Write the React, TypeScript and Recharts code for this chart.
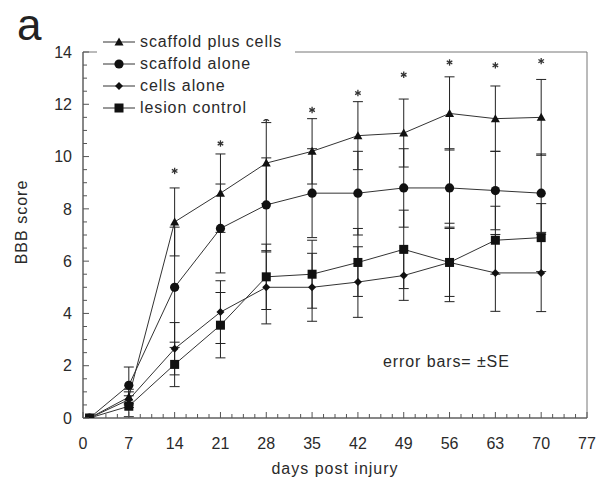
import { ComposedChart, Line, Scatter, XAxis, YAxis, ErrorBar, ReferenceArea, Legend } from 'recharts';

// BBB score over time
const days = [1, 7, 14, 21, 28, 35, 42, 49, 56, 63, 70];
const scaffoldPlusCells = [0, 0.8, 7.5, 8.6, 9.75, 10.2, 10.8, 10.9, 11.65, 11.45, 11.5];
const scaffoldPlusCellsSE = [0, 0.3, 1.3, 1.5, 1.55, 1.25, 1.3, 1.3, 1.4, 1.25, 1.45];
const scaffoldAlone = [0, 1.25, 5.0, 7.25, 8.15, 8.6, 8.6, 8.8, 8.8, 8.7, 8.6];
const scaffoldAloneSE = [0, 0.7, 2.3, 1.7, 1.8, 1.7, 1.6, 1.5, 1.5, 1.5, 1.5];
const cellsAlone = [0, 0.7, 2.65, 4.05, 5.0, 5.0, 5.2, 5.45, 5.95, 5.55, 5.55];
const cellsAloneSE = [0, 0.3, 1.0, 1.2, 1.4, 1.3, 1.35, 0.95, 1.5, 1.47, 1.48];
const lesionControl = [0, 0.45, 2.05, 3.55, 5.4, 5.5, 5.95, 6.45, 5.95, 6.8, 6.9];
const lesionControlSE = [0, 0.4, 0.85, 1.25, 1.25, 1.3, 1.3, 1.5, 1.3, 1.3, 1.3];

// significance asterisks
const starDays = [14, 21, 28, 35, 42, 49, 56, 63, 70];
const starLevels = [9.45, 10.5, 11.43, 11.78, 12.43, 13.13, 13.6, 13.49, 13.65];

const xMajorTicks = [0, 7, 14, 21, 28, 35, 42, 49, 56, 63, 70, 77];
const yMajorTicks = [0, 2, 4, 6, 8, 10, 12, 14];
const MINOR_PER_MAJOR = 4;

const FONT = '"Liberation Sans", Arial, Helvetica, sans-serif';
const INK = '#2a2a2a';

const rows = days.map((day, i) => ({
  day,
  sp: scaffoldPlusCells[i],
  spErr: scaffoldPlusCellsSE[i],
  sa: scaffoldAlone[i],
  saErr: scaffoldAloneSE[i],
  ca: cellsAlone[i],
  caErr: cellsAloneSE[i],
  lc: lesionControl[i],
  lcErr: lesionControlSE[i],
}));

const stars = starDays.map((day, i) => ({ day, v: starLevels[i] }));

function withMinors(majors: number[]) {
  const out: number[] = [];
  for (let i = 0; i < majors.length - 1; i++) {
    const step = (majors[i + 1] - majors[i]) / MINOR_PER_MAJOR;
    for (let k = 0; k < MINOR_PER_MAJOR; k++) out.push(majors[i] + step * k);
  }
  out.push(majors[majors.length - 1]);
  return out;
}

const isMajor = (v: number, majors: number[]) => majors.some((m) => Math.abs(m - v) < 1e-6);

// markers
type Shape = 'triangle' | 'circle' | 'diamond' | 'square';

function marker(shape: Shape, cx: number, cy: number) {
  switch (shape) {
    case 'triangle':
      return <path d={`M${cx},${cy - 4.5} L${cx + 4.5},${cy + 3.5} L${cx - 4.5},${cy + 3.5} Z`} fill="#111" />;
    case 'circle':
      return <circle cx={cx} cy={cy} r={4.6} fill="#111" />;
    case 'diamond':
      return <path d={`M${cx},${cy - 4} L${cx + 4},${cy} L${cx},${cy + 4} L${cx - 4},${cy} Z`} fill="#111" />;
    default:
      return <rect x={cx - 4.5} y={cy - 4.5} width={9} height={9} fill="#111" />;
  }
}

const dotFor = (shape: Shape) => (props: any) => {
  const { cx, cy, index } = props;
  if (cx == null || cy == null) return <g key={index} />;
  return <g key={`${shape}-${index}`}>{marker(shape, cx, cy)}</g>;
};

function Asterisk(props: any) {
  const { cx, cy } = props;
  const r = 3.2;
  return (
    <g stroke="#333" strokeWidth={1.3}>
      <line x1={cx} y1={cy - r} x2={cx} y2={cy + r} />
      <line x1={cx - r * 0.87} y1={cy - r / 2} x2={cx + r * 0.87} y2={cy + r / 2} />
      <line x1={cx - r * 0.87} y1={cy + r / 2} x2={cx + r * 0.87} y2={cy - r / 2} />
    </g>
  );
}

function XTick(props: any) {
  const { x, y, payload } = props;
  const major = isMajor(payload.value, xMajorTicks);
  return (
    <g>
      <line x1={x} y1={y} x2={x} y2={y - (major ? 6 : 4)} stroke="#555" />
      {major && (
        <text x={x} y={y + 31} textAnchor="middle" fontSize={16} fontFamily={FONT} fill={INK}>
          {payload.value}
        </text>
      )}
    </g>
  );
}

function YTick(props: any) {
  const { x, y, payload } = props;
  const major = isMajor(payload.value, yMajorTicks);
  return (
    <g>
      <line x1={x} y1={y} x2={x + (major ? 6 : 4)} y2={y} stroke="#555" />
      {major && (
        <text x={x - 11} y={y} dy="0.36em" textAnchor="end" fontSize={16} fontFamily={FONT} fill={INK}>
          {payload.value}
        </text>
      )}
    </g>
  );
}

const legendItems: { label: string; shape: Shape }[] = [
  { label: 'scaffold plus cells', shape: 'triangle' },
  { label: 'scaffold alone', shape: 'circle' },
  { label: 'cells alone', shape: 'diamond' },
  { label: 'lesion control', shape: 'square' },
];

function LegendBox() {
  return (
    <div style={{ background: '#fff', paddingTop: 1, width: 198, height: 88 }}>
      {legendItems.map((item) => (
        <div key={item.label} style={{ display: 'flex', alignItems: 'center', height: 22 }}>
          <svg width={43} height={22} style={{ flex: 'none' }}>
            <line x1={6} y1={11} x2={38} y2={11} stroke="#333" />
            {marker(item.shape, 22, 11)}
          </svg>
          <span style={{ fontFamily: FONT, fontSize: 16, letterSpacing: 0.9, color: INK, whiteSpace: 'nowrap' }}>
            {item.label}
          </span>
        </div>
      ))}
    </div>
  );
}

// the chart is pinned to the window's corner and fills all of 598x485
export default function App() {
  return (
    <div style={{ position: 'fixed', left: 0, top: 0, width: 598, height: 485, background: '#fff' }}>
      <ComposedChart width={598} height={485} data={rows} margin={{ top: 52, right: 11, bottom: 0, left: 0 }}>
        <ReferenceArea x1={0} x2={77} y1={0} y2={14} fill="none" stroke="#777" strokeWidth={1} ifOverflow="visible" />
        <XAxis
          type="number"
          dataKey="day"
          domain={[0, 77]}
          ticks={withMinors(xMajorTicks)}
          interval={0}
          tickSize={0}
          tickMargin={0}
          tickLine={false}
          tick={<XTick />}
          axisLine={{ stroke: '#555' }}
          height={67}
          allowDataOverflow
          label={{
            content: (p: any) => {
              const vb = p.viewBox || { x: 83, y: 418, width: 504 };
              return (
                <text x={vb.x + vb.width / 2} y={vb.y + 56} textAnchor="middle" fontSize={16} letterSpacing={1} fontFamily={FONT} fill={INK}>
                  days post injury
                </text>
              );
            },
          }}
        />
        <YAxis
          type="number"
          domain={[0, 14]}
          ticks={withMinors(yMajorTicks)}
          interval={0}
          tickSize={0}
          tickMargin={0}
          tickLine={false}
          tick={<YTick />}
          axisLine={{ stroke: '#555' }}
          width={83}
          allowDataOverflow
          label={{
            content: (p: any) => {
              const vb = p.viewBox || { x: 0, y: 52, height: 366 };
              const cx = vb.x + 21;
              const cy = vb.y + vb.height / 2 - 13;
              return (
                <text x={cx} y={cy} transform={`rotate(-90 ${cx} ${cy})`} textAnchor="middle" dy="0.36em" fontSize={16} letterSpacing={1} fontFamily={FONT} fill={INK}>
                  BBB score
                </text>
              );
            },
          }}
        />
        <Legend
          verticalAlign="middle"
          layout="horizontal"
          align="center"
          content={() => <LegendBox />}
          wrapperStyle={{ left: 97, top: 30, width: 198, height: 88 }}
        />
        <Line dataKey="sp" name="scaffold plus cells" stroke="#333" strokeWidth={1} dot={dotFor('triangle')} activeDot={false} isAnimationActive={false}>
          <ErrorBar dataKey="spErr" width={5} stroke="#222" strokeWidth={1} direction="y" />
        </Line>
        <Line dataKey="sa" name="scaffold alone" stroke="#333" strokeWidth={1} dot={dotFor('circle')} activeDot={false} isAnimationActive={false}>
          <ErrorBar dataKey="saErr" width={5} stroke="#222" strokeWidth={1} direction="y" />
        </Line>
        <Line dataKey="ca" name="cells alone" stroke="#333" strokeWidth={1} dot={dotFor('diamond')} activeDot={false} isAnimationActive={false}>
          <ErrorBar dataKey="caErr" width={5} stroke="#222" strokeWidth={1} direction="y" />
        </Line>
        <Line dataKey="lc" name="lesion control" stroke="#333" strokeWidth={1} dot={dotFor('square')} activeDot={false} isAnimationActive={false}>
          <ErrorBar dataKey="lcErr" width={5} stroke="#222" strokeWidth={1} direction="y" />
        </Line>
        <Scatter data={stars} dataKey="v" shape={<Asterisk />} legendType="none" isAnimationActive={false} />
      </ComposedChart>
      <svg width={598} height={485} style={{ position: 'absolute', left: 0, top: 0, pointerEvents: 'none' }}>
        <text x={17} y={40} fontSize={44} fontFamily={FONT} fill="#222">a</text>
        <text x={383} y={367} fontSize={16} letterSpacing={0.9} fontFamily={FONT} fill={INK}>error bars= ±SE</text>
      </svg>
    </div>
  );
}
